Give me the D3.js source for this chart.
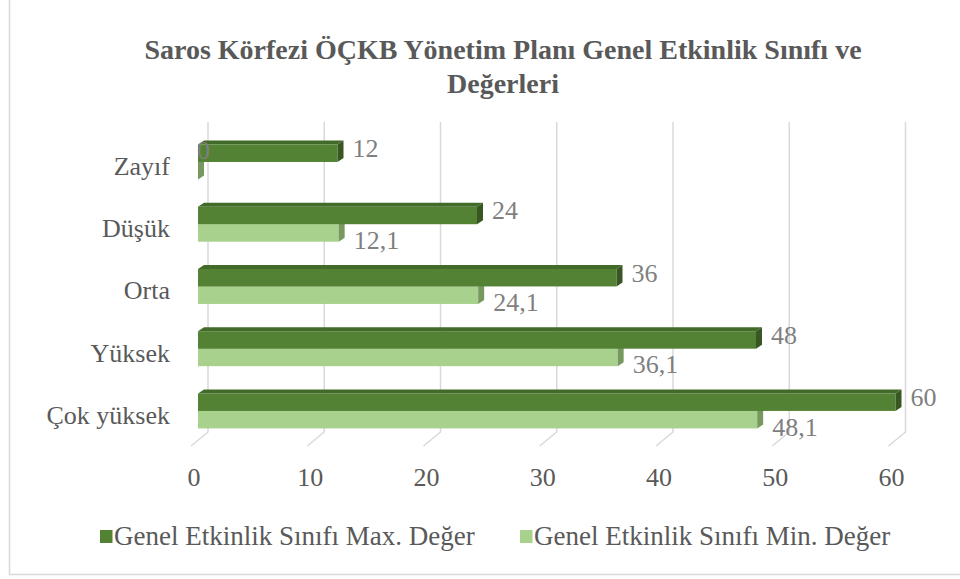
<!DOCTYPE html>
<html>
<head>
<meta charset="utf-8">
<script src="https://cdn.jsdelivr.net/npm/d3@7"></script>
<style>
  html, body { margin: 0; padding: 0; background: #fff; }
  svg { display: block; }
</style>
</head>
<body>
<svg id="chart" width="960" height="579"></svg>
<script>
// Categories, top to bottom
const categories = ["Zayıf", "Düşük", "Orta", "Yüksek", "Çok yüksek"];
const seriesNames = ["Genel Etkinlik Sınıfı Max. Değer", "Genel Etkinlik Sınıfı Min. Değer"];
const maxValues = [12, 24, 36, 48, 60];
const minValues = [0, 12.1, 24.1, 36.1, 48.1];
const xTicks = [0, 10, 20, 30, 40, 50, 60];
const titleLines = ["Saros Körfezi ÖÇKB Yönetim Planı Genel Etkinlik Sınıfı ve", "Değerleri"];

const FONT = "'Liberation Serif'";
const fmt = v => String(v).replace(".", ",");

const svg = d3.select("#chart");

// Outer frame
svg.append("rect")
  .attr("x", 9.5).attr("y", -5).attr("width", 1000).attr("height", 579.5)
  .attr("fill", "none").attr("stroke", "#d9d9d9").attr("stroke-width", 1.5);

// Title
svg.append("text")
  .attr("x", 503).attr("y", 59)
  .attr("text-anchor", "middle").attr("font-family", FONT)
  .attr("font-size", 28).attr("font-weight", "bold").attr("fill", "#595959")
  .selectAll("tspan").data(titleLines).join("tspan")
  .attr("x", 503).attr("dy", (d, i) => i === 0 ? 0 : 34)
  .text(d => d);

// Scales: front plane of bars and back wall
const xFront = d3.scaleLinear().domain([0, 60]).range([198, 895.5]);
const xBack = d3.scaleLinear().domain([0, 60]).range([208, 905.5]);
const wallTop = 122, wallBottom = 432;
const floorDx = -17, floorDy = 14;
const depthDx = 6, depthDy = -4;

const y = d3.scaleBand().domain(categories)
  .range([125.8, 447.1]).paddingInner(0.4378).paddingOuter(0.3);
const ySub = d3.scaleBand().domain(["max", "min"]).range([0, y.bandwidth()]);

// Back wall gridlines and floor ticks
const grid = svg.append("g").attr("stroke", "#d9d9d9").attr("stroke-width", 1.5).attr("fill", "none");
xTicks.forEach(t => {
  const xb = xBack(t);
  grid.append("path")
    .attr("d", `M${xb},${wallTop}L${xb},${wallBottom}L${xb + floorDx},${wallBottom + floorDy}`);
});

// Axis tick labels
svg.append("g").selectAll("text").data(xTicks).join("text")
  .attr("x", d => xBack(d) - 14).attr("y", 486)
  .attr("text-anchor", "middle").attr("font-family", FONT)
  .attr("font-size", 26).attr("fill", "#595959")
  .text(d => d);

// Category labels
svg.append("g").selectAll("text").data(categories).join("text")
  .attr("x", 170).attr("y", d => y(d) + y.bandwidth() / 2 + 13)
  .attr("text-anchor", "end").attr("font-family", FONT)
  .attr("font-size", 26).attr("fill", "#595959")
  .text(d => d);

// 3D bar drawing: front face, top face, right side face
const palette = {
  max: { front: "#548235", top: "#426a29", side: "#385723" },
  min: { front: "#a9d18e", top: "#93b87a", side: "#779960" }
};

function drawBar(g, key, cat, value) {
  const c = palette[key];
  const x0 = xFront(0), x1 = xFront(value);
  const y0 = y(cat) + ySub(key), h = ySub.bandwidth();
  g.append("path").attr("fill", c.top)
    .attr("d", `M${x0},${y0}L${x0 + depthDx},${y0 + depthDy}L${x1 + depthDx},${y0 + depthDy}L${x1},${y0}Z`);
  g.append("rect").attr("fill", c.front)
    .attr("x", x0).attr("y", y0).attr("width", x1 - x0).attr("height", h);
  g.append("path").attr("fill", c.side)
    .attr("d", `M${x1},${y0}L${x1 + depthDx},${y0 + depthDy}L${x1 + depthDx},${y0 + h + depthDy}L${x1},${y0 + h}Z`);
}

const bars = svg.append("g");
categories.forEach((cat, i) => {
  drawBar(bars, "min", cat, minValues[i]);
  drawBar(bars, "max", cat, maxValues[i]);
});

// Data labels
const labels = svg.append("g");
categories.forEach((cat, i) => {
  const yc = y(cat) + y.bandwidth() / 2;
  [["max", maxValues[i], -4], ["min", minValues[i], 8]].forEach(([key, v, off]) => {
    const base = y(cat) + ySub(key) + ySub.bandwidth() / 2 + off + 8;
    const zero = v === 0;
    labels.append("text")
      .attr("font-family", FONT).attr("font-size", 26).attr("fill", "#7f7f7f")
      .attr("x", zero ? xFront(v) - 1 : xFront(v) + 15)
      .attr("y", zero ? yc - 3 : base)
      .text(fmt(v));
  });
});

// Legend
const legendItems = [
  { name: seriesNames[0], color: palette.max.front, x: 100 },
  { name: seriesNames[1], color: palette.min.front, x: 520 }
];
const lg = svg.append("g");
legendItems.forEach(d => {
  lg.append("rect").attr("x", d.x).attr("y", 530).attr("width", 12.5).attr("height", 13).attr("fill", d.color);
  lg.append("text").attr("x", d.x + 14).attr("y", 545).attr("font-family", FONT)
    .attr("font-size", 27).attr("fill", "#595959").text(d.name);
});
</script>
</body>
</html>
